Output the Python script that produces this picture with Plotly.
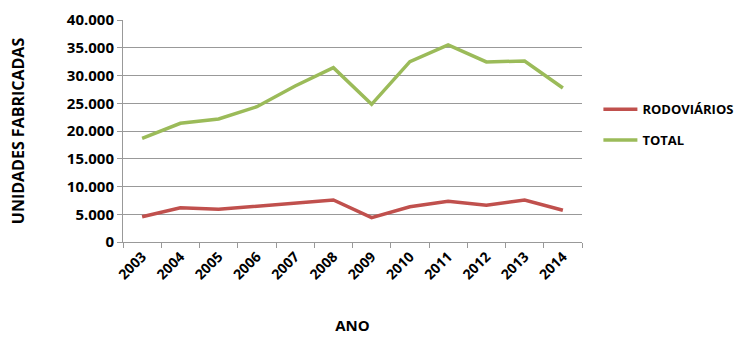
import plotly.graph_objects as go

anos = ["2003","2004","2005","2006","2007","2008","2009","2010","2011","2012","2013","2014"]
rodoviarios = [4560, 6180, 5890, 6450, 7100, 7570, 4380, 6360, 7330, 6610, 7570, 5710]
total = [18690, 21390, 22160, 24380, 28100, 31410, 24810, 32490, 35500, 32440, 32620, 27750]
yticks = [0, 5000, 10000, 15000, 20000, 25000, 30000, 35000, 40000]

FONT = "Open Sans"
fig = go.Figure()
fig.add_trace(go.Scatter(x=anos, y=rodoviarios, mode="lines", name="RODOVIÁRIOS",
                         legendgroup="a", line=dict(color="#c0504d", width=3.5)))
fig.add_trace(go.Scatter(x=anos, y=total, mode="lines", name="TOTAL",
                         legendgroup="b", line=dict(color="#9bbb59", width=3.5)))

fig.update_layout(
    width=748, height=337,
    margin=dict(l=123, r=166, t=20, b=95, autoexpand=False),
    paper_bgcolor="white", plot_bgcolor="white",
    separators=",.",
    font=dict(family=FONT, color="#000000"),
    showlegend=True,
    legend=dict(xref="container", yref="container", x=0.8, y=0.63,
                xanchor="left", yanchor="middle",
                font=dict(family=FONT, size=13, color="#000", weight="bold"),
                bgcolor="rgba(0,0,0,0)", itemwidth=34, tracegroupgap=11),
)
fig.update_xaxes(
    type="category", tickangle=-45, tickson="boundaries", range=[-0.5, 11.5],
    automargin=False,
    ticks="outside", ticklen=5, tickcolor="#999", showline=True, linecolor="#999", linewidth=1,
    showgrid=False,
    tickfont=dict(family=FONT, size=14, color="#000", weight="bold"),
    title=dict(text="<b>ANO</b>", font=dict(family=FONT, size=15, color="#000"), standoff=38),
)
fig.update_yaxes(
    range=[0, 40000], tickvals=yticks, tickformat=",d",
    automargin=False,
    ticks="outside", ticklen=5, tickcolor="#999", showline=True, linecolor="#999", linewidth=1,
    showgrid=True, gridcolor="#999", gridwidth=1, zeroline=False,
    tickfont=dict(family=FONT, size=15, color="#000", weight="bold"),
    title=dict(text="<b>UNIDADES FABRICADAS</b>", font=dict(family=FONT, size=16, color="#000"), standoff=38),
)
fig.write_html("out.html")
